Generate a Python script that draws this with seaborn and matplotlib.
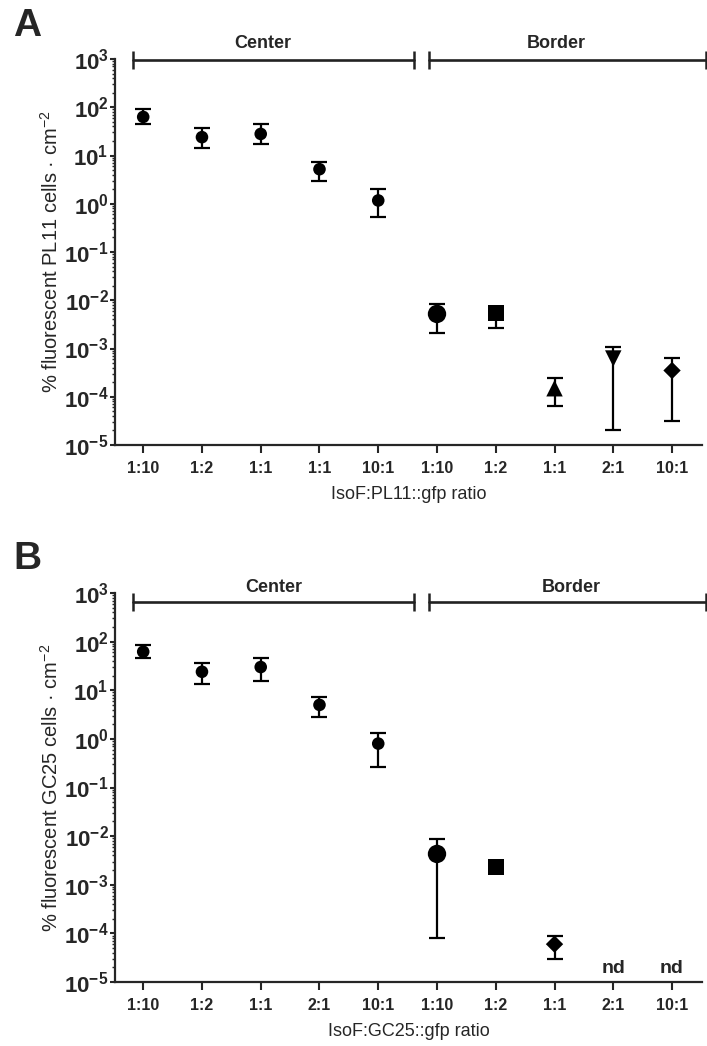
import numpy as np
import pandas as pd
import matplotlib
matplotlib.use("Agg")
import matplotlib.pyplot as plt
import seaborn as sns
from matplotlib import ticker, transforms

# ---------------- data ----------------
positions = list(range(10))
labels_A = ["1:10", "1:2", "1:1", "1:1", "10:1", "1:10", "1:2", "1:1", "2:1", "10:1"]
labels_B = ["1:10", "1:2", "1:1", "2:1", "10:1", "1:10", "1:2", "1:1", "2:1", "10:1"]
shapes_A = ["circle"] * 5 + ["bigcircle", "square", "triup", "tridown", "diamond"]
shapes_B = ["circle"] * 5 + ["bigcircle", "square", "diamond", "diamond", "diamond"]

A_mean = [63, 24, 28, 5.2, 1.17, 0.0052, 0.0055, 1.5e-4, 6.2e-4, 3.5e-4]
A_low = [44, 14, 17, 2.9, 0.53, 0.0021, 0.0027, 6.3e-5, 2.0e-5, 3.1e-5]
A_high = [93, 38, 44, 7.5, 2.0, 0.0085, 0.007, 2.5e-4, 1.1e-3, 6.4e-4]

nan = np.nan
B_mean = [62, 24, 30, 5.0, 0.80, 0.0043, 0.0023, 6e-5, nan, nan]
B_low = [45, 13.5, 15.6, 2.8, 0.26, 8e-5, nan, 3e-5, nan, nan]
B_high = [85, 36, 45, 7.3, 1.33, 0.0087, nan, 9e-5, nan, nan]
B_nd = [8, 9]

ylabel_A = "% fluorescent PL11 cells · cm$^{-2}$"
ylabel_B = "% fluorescent GC25 cells · cm$^{-2}$"
xlabel_A = "IsoF:PL11::gfp ratio"
xlabel_B = "IsoF:GC25::gfp ratio"

# ---------------- style ----------------
sns.set_style("ticks")
plt.rcParams["font.family"] = ["Liberation Sans", "DejaVu Sans"]
plt.rcParams["mathtext.fontset"] = "custom"
plt.rcParams["mathtext.rm"] = "Liberation Sans"
plt.rcParams["mathtext.it"] = "Liberation Sans:italic"
plt.rcParams["mathtext.bf"] = "Liberation Sans:bold"

marker_map = {"circle": "o", "bigcircle": "o", "square": "s",
              "triup": "^", "tridown": "v", "diamond": "D"}
size_map = {"circle": 82, "bigcircle": 175, "square": 140,
            "triup": 140, "tridown": 140, "diamond": 78}

fig = plt.figure(figsize=(7.07, 10.46), dpi=100)
W, H = 707, 1046


def panel(ax_rect, means, low, high, shapes, ticklabels, ylabel, xlabel,
          txt_y, brk_y, center_x, border_x, nd=None):
    ax = fig.add_axes(ax_rect)
    df = pd.DataFrame({"x": positions, "y": means, "shape": shapes})
    ax.set_yscale("log")
    m = np.array(means, dtype=float)
    lo = np.array(low, dtype=float)
    hi = np.array(high, dtype=float)
    ok = ~np.isnan(lo)
    xs = np.array(positions)[ok]
    ax.errorbar(xs, m[ok], yerr=[m[ok] - lo[ok], hi[ok] - m[ok]], fmt="none",
                ecolor="black", elinewidth=1.6, capsize=5.6, capthick=1.6, zorder=2)
    sns.scatterplot(data=df.dropna(), x="x", y="y", style="shape", markers=marker_map,
                    size="shape", sizes=size_map, color="black", edgecolor="black",
                    linewidth=0, legend=False, ax=ax, zorder=3)
    ax.set_xlim(-0.48, 9.51)
    ax.set_ylim(1e-5, 1e3)
    sns.despine(ax=ax)
    for s in ["left", "bottom"]:
        ax.spines[s].set_linewidth(1.6)
    ax.set_xticks(positions)
    ax.set_xticklabels(ticklabels, fontweight="bold", fontsize=11.5)
    exps = list(range(-5, 4))
    ax.yaxis.set_major_locator(ticker.FixedLocator([10.0 ** k for k in exps]))
    ax.yaxis.set_major_formatter(ticker.FixedFormatter([r"$\mathbf{10^{%d}}$" % k for k in exps]))
    ax.yaxis.set_minor_locator(ticker.LogLocator(base=10, subs=np.arange(2, 10), numticks=100))
    ax.yaxis.set_minor_formatter(ticker.NullFormatter())
    for lab in ax.get_yticklabels():
        lab.set_fontsize(16)
    ax.tick_params(axis="y", which="major", length=3.6, width=1.5, pad=1)
    ax.tick_params(axis="y", which="minor", length=2.2, width=1.0)
    ax.tick_params(axis="x", which="major", length=5.8, width=1.5, pad=6)
    ax.set_xlabel(xlabel, fontsize=13, labelpad=7)
    ax.set_ylabel(ylabel, fontsize=14.5)
    ax.yaxis.set_label_coords(-0.09, 0.5)

    trans = transforms.blended_transform_factory(ax.transData, ax.transAxes)
    for (x0, x1) in [(-0.17, 4.61), (4.87, 9.58)]:
        ax.plot([x0, x1], [brk_y, brk_y], color="#222222", lw=1.9, transform=trans,
                clip_on=False, marker="|", markersize=13, mew=1.8)
    ax.text(center_x, txt_y, "Center", transform=trans, ha="center", va="center",
            fontsize=13, fontweight="bold")
    ax.text(border_x, txt_y, "Border", transform=trans, ha="center", va="center",
            fontsize=13, fontweight="bold")
    if nd:
        for xi in nd:
            ax.text(xi, 1.5e-5, "nd", ha="center", va="baseline", fontsize=14,
                    fontweight="bold")
    return ax


axA = panel([115 / W, (H - 445) / H, 587 / W, 386 / H], A_mean, A_low, A_high, shapes_A,
            labels_A, ylabel_A, xlabel_A, txt_y=1.039, brk_y=0.997,
            center_x=2.04, border_x=7.03)
axB = panel([115 / W, (H - 982) / H, 587 / W, 389 / H], B_mean, B_low, B_high, shapes_B,
            labels_B, ylabel_B, xlabel_B, txt_y=1.013, brk_y=0.977,
            center_x=2.23, border_x=7.28, nd=B_nd)

fig.text(27 / W, 1 - 26 / H, "A", ha="center", va="center", fontsize=28, fontweight="bold")
fig.text(27 / W, 1 - 559 / H, "B", ha="center", va="center", fontsize=28, fontweight="bold")

fig.savefig("out.png", dpi=100)
